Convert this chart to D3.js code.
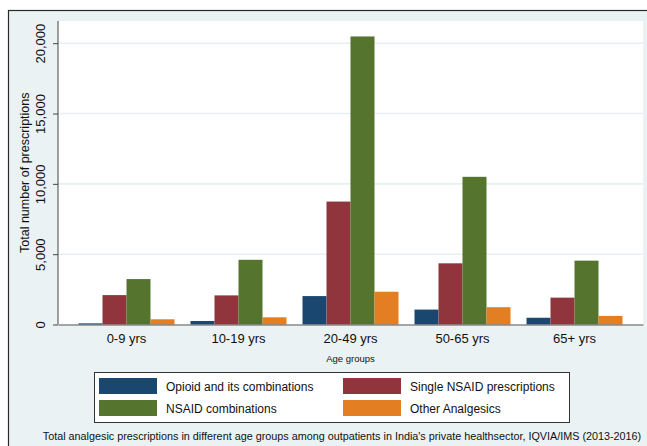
<!DOCTYPE html>
<html>
<head>
<meta charset="utf-8">
<script src="https://cdn.jsdelivr.net/npm/d3@7"></script>
<style>
  body { margin: 0; background: #fff; }
  text { font-family: "Liberation Sans", Arial, sans-serif; fill: #111; }
</style>
</head>
<body>
<div id="chart"></div>
<script>
// Data
const ageGroups = ['0-9 yrs', '10-19 yrs', '20-49 yrs', '50-65 yrs', '65+ yrs'];
const seriesNames = ['Opioid and its combinations', 'Single NSAID prescriptions', 'NSAID combinations', 'Other Analgesics'];
const opioid = [80, 250, 2020, 1060, 480];
const singleNsaid = [2090, 2070, 8740, 4350, 1910];
const nsaidComb = [3230, 4600, 20480, 10500, 4540];
const otherAnalgesics = [370, 510, 2330, 1230, 610];
const yTicks = [0, 5000, 10000, 15000, 20000];

const values = [opioid, singleNsaid, nsaidComb, otherAnalgesics];
const colors = ['#1a476f', '#90353b', '#55752f', '#e37e22'];

// Setup
const W = 647, H = 446;
const plot = { left: 58, right: 643, top: 21, bottom: 324.5 };

const svg = d3.select('#chart').append('svg')
    .attr('width', W)
    .attr('height', H);

// graph region background + border
svg.append('rect')
    .attr('x', 8.5).attr('y', 10.5)
    .attr('width', W).attr('height', H)
    .attr('fill', '#eaf2f3')
    .attr('stroke', '#2a2a2a')
    .attr('stroke-width', 1.2);

// plot region
svg.append('rect')
    .attr('x', plot.left).attr('y', plot.top)
    .attr('width', plot.right - plot.left)
    .attr('height', plot.bottom - plot.top)
    .attr('fill', '#fff');

// Scales
const x0 = d3.scaleBand().domain(ageGroups)
    .range([plot.left, plot.right])
    .paddingInner(16 / 112)
    .paddingOuter(0.183);
const x1 = d3.scaleBand().domain(d3.range(seriesNames.length))
    .range([0, x0.bandwidth()]);
const y = d3.scaleLinear()
    .domain([0, 20000])
    .range([plot.bottom, 43.2]);

// Gridlines
svg.append('g')
    .selectAll('line')
    .data(yTicks.filter(d => d > 0))
    .join('line')
    .attr('x1', plot.left).attr('x2', plot.right)
    .attr('y1', d => y(d)).attr('y2', d => y(d))
    .attr('stroke', '#e6eff2')
    .attr('stroke-width', 1.6);

// Bars
const groups = svg.append('g')
    .selectAll('g')
    .data(ageGroups)
    .join('g')
    .attr('transform', d => `translate(${x0(d)},0)`);

groups.selectAll('rect')
    .data((g, gi) => values.map((s, si) => ({ si, v: s[gi] })))
    .join('rect')
    .attr('x', d => x1(d.si))
    .attr('y', d => y(d.v))
    .attr('width', x1.bandwidth())
    .attr('height', d => y(0) - y(d.v))
    .attr('fill', d => colors[d.si]);

// Y axis
const yAxis = svg.append('g')
    .attr('transform', `translate(${plot.left},0)`)
    .call(d3.axisLeft(y).tickValues(yTicks).tickSize(5).tickFormat(d3.format(',')));
yAxis.select('.domain').attr('stroke', '#444').attr('d', `M0,${plot.bottom}V${plot.top}`);
yAxis.selectAll('.tick line').attr('stroke', '#444');
yAxis.selectAll('.tick text')
    .attr('x', null).attr('dy', null)
    .attr('transform', 'translate(-13,0) rotate(-90)')
    .attr('text-anchor', 'middle')
    .style('font-size', '13px')
    .style('font-family', '"Liberation Sans", Arial, sans-serif')
    .attr('fill', '#111');

// X axis
const xAxis = svg.append('g')
    .attr('transform', `translate(0,${plot.bottom})`)
    .call(d3.axisBottom(x0).tickSize(0).tickPadding(9));
xAxis.select('.domain').attr('stroke', '#555').attr('stroke-width', 1.2);
xAxis.selectAll('.tick text')
    .style('font-size', '13px')
    .style('font-family', '"Liberation Sans", Arial, sans-serif')
    .attr('fill', '#111');

// Axis titles
svg.append('text')
    .attr('transform', `translate(29,${(plot.top + plot.bottom) / 2}) rotate(-90)`)
    .attr('text-anchor', 'middle')
    .style('font-size', '12.5px')
    .text('Total number of prescriptions');

svg.append('text')
    .attr('x', (plot.left + plot.right) / 2)
    .attr('y', 362)
    .attr('text-anchor', 'middle')
    .style('font-size', '9.5px')
    .text('Age groups');

// Legend
const legend = svg.append('g');
legend.append('rect')
    .attr('x', 94.5).attr('y', 372.5)
    .attr('width', 475).attr('height', 50)
    .attr('fill', '#fff')
    .attr('stroke', '#333')
    .attr('stroke-width', 1);

const legItems = legend.selectAll('g')
    .data(seriesNames)
    .join('g')
    .attr('transform', (d, i) => `translate(${i % 2 === 0 ? 99 : 343},${i < 2 ? 378 : 400})`);
legItems.append('rect')
    .attr('width', 58).attr('height', 16)
    .attr('fill', (d, i) => colors[i]);
legItems.append('text')
    .attr('x', 67).attr('y', 12.5)
    .style('font-size', '12px')
    .text(d => d);

// Caption
svg.append('text')
    .attr('x', 342)
    .attr('y', 440)
    .attr('text-anchor', 'middle')
    .style('font-size', '10.8px')
    .text("Total analgesic prescriptions in different age groups among outpatients in India's private healthsector, IQVIA/IMS (2013-2016)");
</script>
</body>
</html>
